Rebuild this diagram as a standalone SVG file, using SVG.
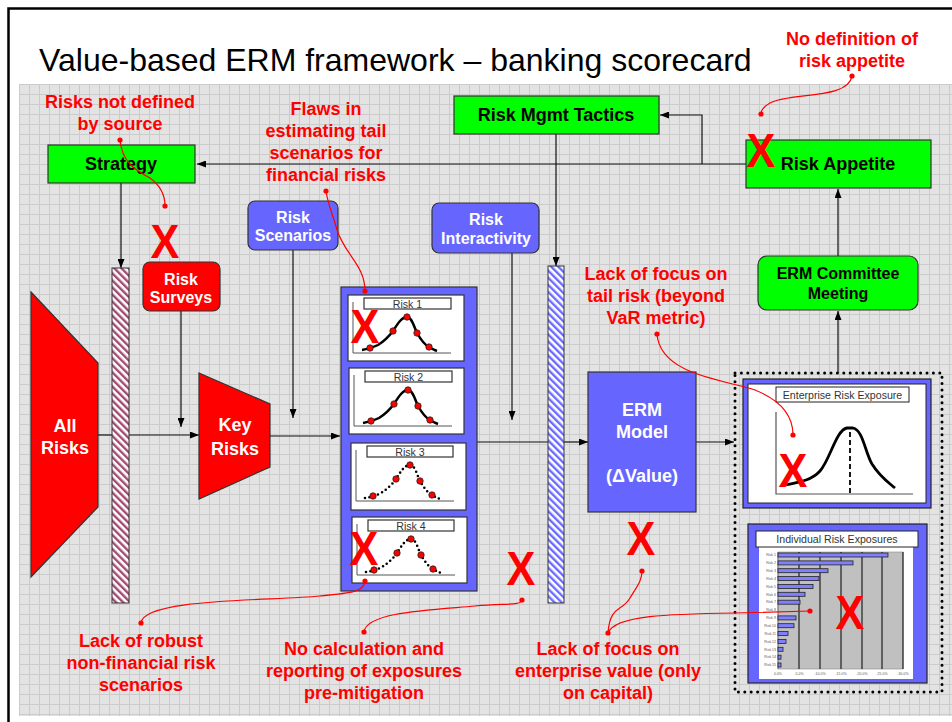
<svg xmlns="http://www.w3.org/2000/svg" width="952" height="722" viewBox="0 0 952 722">
<defs>
<style>
.lbl{font-family:"Liberation Sans",Arial,sans-serif;font-weight:bold;text-anchor:middle}
.b18{font-size:18px}
.b16{font-size:16px}
.blk{fill:#000}
.wht{fill:#fff}
.note{font-family:"Liberation Sans",Arial,sans-serif;font-weight:bold;font-size:18px;fill:#ff0000;text-anchor:middle}
.xmark{font-family:"Liberation Sans",Arial,sans-serif;font-weight:bold;font-size:48px;fill:#ff0000;text-anchor:middle}
.conn{fill:none;stroke:#111;stroke-width:1.2}
.call{fill:none;stroke:#ff0000;stroke-width:1.2}
.green{fill:#00ff00;stroke:#333;stroke-width:1.2}
.blue{fill:#6666ff;stroke:#333;stroke-width:1.2}
.redbox{fill:#ff0000;stroke:#333;stroke-width:1.2}
.pnl{fill:#fff;stroke:#333;stroke-width:1.2}
.small{font-family:"Liberation Sans",Arial,sans-serif;font-size:10.6px;fill:#333;text-anchor:middle}
.tiny{font-family:"Liberation Sans",Arial,sans-serif;font-size:3.5px;fill:#555}
.dot{fill:#ff0000}
.bar{fill:#8080ff;stroke:#222;stroke-width:0.8}
</style>
<pattern id="grid" width="10" height="10" patternUnits="userSpaceOnUse" x="19" y="84">
<rect width="10" height="10" fill="#e3e3e3"/>
<path d="M0,0.5H10M0.5,0V10" stroke="#cbcbcb" stroke-width="1"/>
</pattern>
<pattern id="hatchRed" width="5" height="5" patternUnits="userSpaceOnUse" patternTransform="rotate(-45)">
<rect width="5" height="5" fill="#fff"/><rect width="2.4" height="5" fill="#a24a72"/>
</pattern>
<pattern id="hatchBlue" width="5" height="5" patternUnits="userSpaceOnUse" patternTransform="rotate(-45)">
<rect width="5" height="5" fill="#fff"/><rect width="2.4" height="5" fill="#6a6aff"/>
</pattern>
<marker id="arr" viewBox="0 0 9 7" refX="9" refY="3.5" markerWidth="9" markerHeight="7" markerUnits="userSpaceOnUse" orient="auto">
<path d="M0,0L9,3.5L0,7z" fill="#000"/>
</marker>
<path id="axes" d="M5,7V58H103" fill="none" stroke="#555" stroke-width="1"/>
<path id="bellPath" d="M14,55 Q22,54 30,50 C38,45 42,40 45,36 C50,28 54,22 59,22 C64,22 66,32 69,38 C73,45 77,50 81,52 Q86,55 89,56"/>
<g id="bellDots" fill="#ff0000" stroke="#222" stroke-width="0.8">
<circle cx="22" cy="53" r="3.2"/><circle cx="45" cy="36" r="3.2"/><circle cx="59" cy="22" r="3.2"/><circle cx="69" cy="38" r="3.2"/><circle cx="81" cy="52" r="3.2"/>
</g>
<g id="bellSolid">
<use href="#axes"/>
<use href="#bellPath" fill="none" stroke="#000" stroke-width="2.5"/>
<use href="#bellDots"/>
</g>
<g id="bellDotted">
<use href="#axes"/>
<use href="#bellPath" fill="none" stroke="#000" stroke-width="2.6" stroke-dasharray="0 4.5" stroke-linecap="round"/>
<use href="#bellDots"/>
</g>
</defs>

<!-- frame -->
<rect x="8.5" y="8.5" width="960" height="730" fill="#fff" stroke="#000" stroke-width="2.5"/>
<rect x="19" y="84" width="933" height="632" fill="url(#grid)"/>
<text x="39" y="71" font-family="'Liberation Sans',Arial,sans-serif" font-size="32" fill="#000">Value-based ERM framework – banking scorecard</text>

<!-- connectors -->
<g id="connectors">
<path class="conn" d="M746,164H197" marker-end="url(#arr)"/>
<path class="conn" d="M702,164V115H660" marker-end="url(#arr)"/>
<path class="conn" d="M556,134V266" marker-end="url(#arr)"/>
<path class="conn" d="M121,183V268" marker-end="url(#arr)"/>
<path class="conn" d="M181,311V427" marker-end="url(#arr)"/>
<path class="conn" d="M98,435H112"/>
<path class="conn" d="M129,435H199" marker-end="url(#arr)"/>
<path class="conn" d="M270,436H340" marker-end="url(#arr)"/>
<path class="conn" d="M293,250V418" marker-end="url(#arr)"/>
<path class="conn" d="M477,442H548"/>
<path class="conn" d="M564,442H588" marker-end="url(#arr)"/>
<path class="conn" d="M512,253V420" marker-end="url(#arr)"/>
<path class="conn" d="M696,442H734" marker-end="url(#arr)"/>
<path class="conn" d="M838,373V311" marker-end="url(#arr)"/>
<path class="conn" d="M838,256V189" marker-end="url(#arr)"/>
</g>

<!-- nodes -->
<g id="strategy">
<rect class="green" x="48" y="145" width="147" height="38"/>
<text class="lbl b18 blk" x="121" y="170">Strategy</text>
</g>
<g id="risk-mgmt-tactics">
<rect class="green" x="454" y="96" width="205" height="38"/>
<text class="lbl b18 blk" x="556" y="121">Risk Mgmt Tactics</text>
</g>
<g id="risk-appetite">
<rect class="green" x="746" y="140" width="185" height="48"/>
<text class="lbl b18 blk" x="838" y="170">Risk Appetite</text>
</g>
<g id="erm-committee">
<rect class="green" x="758" y="256" width="160" height="54" rx="9"/>
<text class="lbl b16 blk" x="838" y="279">ERM Committee</text>
<text class="lbl b16 blk" x="838" y="299">Meeting</text>
</g>
<g id="risk-surveys">
<rect class="redbox" x="143" y="262" width="77" height="49" rx="7"/>
<text class="lbl b16 wht" x="181" y="285">Risk</text>
<text class="lbl b16 wht" x="181" y="303">Surveys</text>
</g>
<g id="risk-scenarios">
<rect class="blue" x="248" y="201" width="90" height="49" rx="7"/>
<text class="lbl b16 wht" x="293" y="223">Risk</text>
<text class="lbl b16 wht" x="293" y="241">Scenarios</text>
</g>
<g id="risk-interactivity">
<rect class="blue" x="432" y="203" width="107" height="50" rx="7"/>
<text class="lbl b16 wht" x="486" y="225">Risk</text>
<text class="lbl b16 wht" x="486" y="244">Interactivity</text>
</g>
<g id="filter-bar-left">
<rect x="112" y="268" width="17" height="335" fill="url(#hatchRed)" stroke="#333" stroke-width="1"/>
</g>
<g id="filter-bar-right">
<rect x="548" y="266" width="16" height="337" fill="url(#hatchBlue)" stroke="#333" stroke-width="1"/>
</g>
<g id="all-risks">
<path class="redbox" d="M31,292L98,363V507L31,577Z"/>
<text class="lbl b18 wht" x="65" y="432">All</text>
<text class="lbl b18 wht" x="65" y="454">Risks</text>
</g>
<g id="key-risks">
<path class="redbox" d="M199,373L270,404V467L199,499Z"/>
<text class="lbl b18 wht" x="235" y="431">Key</text>
<text class="lbl b18 wht" x="235" y="455">Risks</text>
</g>
<g id="erm-model">
<rect class="blue" x="588" y="372" width="108" height="140"/>
<text class="lbl b18 wht" x="642" y="416">ERM</text>
<text class="lbl b18 wht" x="642" y="438">Model</text>
<text class="lbl b18 wht" x="642" y="482">(ΔValue)</text>
</g>
<g id="risk-distributions">
<rect class="blue" x="341" y="287" width="136" height="304"/>
<rect class="pnl" x="348" y="295" width="116" height="66"/>
<rect class="pnl" x="364" y="298" width="87" height="11" stroke-width="1"/>
<text class="small" x="407.5" y="307.5">Risk 1</text>
<use href="#bellSolid" x="348" y="295"/>
<rect class="pnl" x="349" y="368" width="115" height="66"/>
<rect class="pnl" x="365" y="371" width="87" height="11" stroke-width="1"/>
<text class="small" x="408.5" y="380.5">Risk 2</text>
<use href="#bellSolid" x="349" y="368"/>
<rect class="pnl" x="351" y="443" width="115" height="67"/>
<rect class="pnl" x="367" y="446" width="86" height="11" stroke-width="1"/>
<text class="small" x="410" y="455.5">Risk 3</text>
<use href="#bellDotted" x="351" y="443"/>
<rect class="pnl" x="352" y="517" width="115" height="66"/>
<rect class="pnl" x="368" y="520" width="86" height="11" stroke-width="1"/>
<text class="small" x="411" y="529.5">Risk 4</text>
<use href="#bellDotted" x="352" y="517"/>
</g>
<g id="exposure-outputs">
<rect x="735" y="373" width="207" height="319" fill="none" stroke="#000" stroke-width="3" stroke-dasharray="0 6.4" stroke-linecap="round"/>
</g>
<g id="enterprise-risk-exposure">
<rect x="743" y="379" width="188" height="129" fill="#6666ff" stroke="#222" stroke-width="1.2"/>
<rect x="748" y="384" width="178" height="119" fill="#fff" stroke="#222" stroke-width="1"/>
<rect x="776" y="387" width="133" height="15" fill="#fff" stroke="#222" stroke-width="1"/>
<text class="small" x="842.5" y="398.5">Enterprise Risk Exposure</text>
<path d="M776,412V494H913" fill="none" stroke="#555" stroke-width="1.2"/>
<path d="M785,485 C800,482 812,480 820,471 C830,460 836,430 847,428 L853,428 C863,430 865,452 872,464 C880,477 888,482 895,488" fill="none" stroke="#000" stroke-width="2.8"/>
<path d="M850,432V494" stroke="#000" stroke-width="1.8" stroke-dasharray="5 3"/>
</g>
<g id="individual-risk-exposures">
<rect x="748" y="524" width="179" height="159" fill="#6666ff" stroke="#222" stroke-width="1.2"/>
<rect x="759" y="540" width="154" height="139" fill="#fff"/>
<rect x="756" y="531" width="162" height="16" fill="#fff" stroke="#222" stroke-width="1"/>
<text class="small" x="837" y="543">Individual Risk Exposures</text>
<rect x="778" y="552" width="125" height="117" fill="#c0c0c0" stroke="#888" stroke-width="0.6"/>
<path d="M799,552V669M820,552V669M841,552V669M862,552V669M882,552V669M903,552V669" stroke="#000" stroke-width="1"/>
<path d="M778,552V669" stroke="#666" stroke-width="0.8"/>
<rect class="bar" x="778" y="553" width="110" height="4"/>
<rect class="bar" x="778" y="560.9" width="75" height="4"/>
<rect class="bar" x="778" y="568.7" width="50" height="4"/>
<rect class="bar" x="778" y="576.6" width="41" height="4"/>
<rect class="bar" x="778" y="584.4" width="35" height="4"/>
<rect class="bar" x="778" y="592.3" width="27" height="4"/>
<rect class="bar" x="778" y="600.2" width="22" height="4"/>
<rect class="bar" x="778" y="615.9" width="18" height="4"/>
<rect class="bar" x="778" y="623.7" width="16" height="4"/>
<rect class="bar" x="778" y="631.6" width="10" height="4"/>
<rect class="bar" x="778" y="639.5" width="8" height="4"/>
<rect class="bar" x="778" y="647.3" width="5" height="4"/>
<rect class="bar" x="778" y="655.2" width="3" height="4"/>
<rect class="bar" x="778" y="663" width="3" height="4"/>
<g class="tiny" text-anchor="end">
<text x="776" y="556.2">Risk 1</text><text x="776" y="564.1">Risk 2</text><text x="776" y="571.9">Risk 3</text><text x="776" y="579.8">Risk 4</text><text x="776" y="587.6">Risk 5</text><text x="776" y="595.5">Risk 6</text><text x="776" y="603.4">Risk 7</text><text x="776" y="611.2">Risk 8</text><text x="776" y="619.1">Risk 9</text><text x="776" y="626.9">Risk 10</text><text x="776" y="634.8">Risk 11</text><text x="776" y="642.7">Risk 12</text><text x="776" y="650.5">Risk 13</text><text x="776" y="658.4">Risk 14</text><text x="776" y="666.2">Risk 15</text>
</g>
<g class="tiny" text-anchor="middle">
<text x="778" y="675">0.0%</text><text x="799" y="675">-5.0%</text><text x="820" y="675">-10.0%</text><text x="841" y="675">-15.0%</text><text x="862" y="675">-20.0%</text><text x="882" y="675">-25.0%</text><text x="903" y="675">-30.0%</text>
</g>
</g>

<!-- callouts -->
<g id="callouts">
<path class="call" d="M120,140 C122,162 135,170 150,178 C161,186 165,195 165,206"/>
<path class="call" d="M326,191 C328,205 333,215 337,230 C345,255 365,265 365,291"/>
<path class="call" d="M852,76 C848,100 790,92 770,103 C763,107 761,111 761,114"/>
<path class="call" d="M657,334 C660,375 725,380 755,390 C780,400 793,415 793,435"/>
<path class="call" d="M141,623 C143,598 270,601 320,596 C352,593 364,592 365,581"/>
<path class="call" d="M364,632 C366,612 430,610 475,606 C505,603 521,606 522,600"/>
<path class="call" d="M608,633 C610,605 622,612 630,598 C638,585 642,580 642,571"/>
<path class="call" d="M608,633 C615,615 670,614 735,613 L810,611"/>
<circle class="dot" cx="120" cy="140" r="2.6"/><circle class="dot" cx="165" cy="206" r="2.6"/>
<circle class="dot" cx="326" cy="191" r="2.6"/><circle class="dot" cx="365" cy="291" r="2.6"/>
<circle class="dot" cx="852" cy="76" r="2.6"/><circle class="dot" cx="761" cy="114" r="2.6"/>
<circle class="dot" cx="657" cy="334" r="2.6"/><circle class="dot" cx="793" cy="435" r="2.6"/>
<circle class="dot" cx="141" cy="623" r="2.6"/><circle class="dot" cx="365" cy="581" r="2.6"/>
<circle class="dot" cx="364" cy="632" r="2.6"/><circle class="dot" cx="522" cy="600" r="2.6"/>
<circle class="dot" cx="608" cy="633" r="2.6"/><circle class="dot" cx="642" cy="571" r="2.6"/>
<circle class="dot" cx="810" cy="611" r="2.6"/>
</g>

<!-- notes -->
<g id="notes">
<text class="note" x="120" y="108">Risks not defined</text>
<text class="note" x="120" y="130">by source</text>
<text class="note" x="326" y="115">Flaws in</text>
<text class="note" x="326" y="137">estimating tail</text>
<text class="note" x="326" y="159">scenarios for</text>
<text class="note" x="326" y="181">financial risks</text>
<text class="note" x="852" y="45">No definition of</text>
<text class="note" x="852" y="67">risk appetite</text>
<text class="note" x="656" y="280">Lack of focus on</text>
<text class="note" x="656" y="302">tail risk (beyond</text>
<text class="note" x="656" y="324">VaR metric)</text>
<text class="note" x="141" y="647">Lack of robust</text>
<text class="note" x="141" y="669">non-financial risk</text>
<text class="note" x="141" y="691">scenarios</text>
<text class="note" x="364" y="655">No calculation and</text>
<text class="note" x="364" y="677">reporting of exposures</text>
<text class="note" x="364" y="699">pre-mitigation</text>
<text class="note" x="608" y="655">Lack of focus on</text>
<text class="note" x="608" y="677">enterprise value (only</text>
<text class="note" x="608" y="699">on capital)</text>
</g>

<!-- X marks -->
<g id="x-marks">
<text class="xmark" transform="translate(165,258) scale(0.9,1)">X</text>
<text class="xmark" transform="translate(761,167) scale(0.9,1)">X</text>
<text class="xmark" transform="translate(365,343) scale(0.9,1)">X</text>
<text class="xmark" transform="translate(364,565) scale(0.9,1)">X</text>
<text class="xmark" transform="translate(521,585) scale(0.9,1)">X</text>
<text class="xmark" transform="translate(641,555) scale(0.9,1)">X</text>
<text class="xmark" transform="translate(793,487) scale(0.9,1)">X</text>
<text class="xmark" transform="translate(850,629) scale(0.9,1)">X</text>
</g>
</svg>
